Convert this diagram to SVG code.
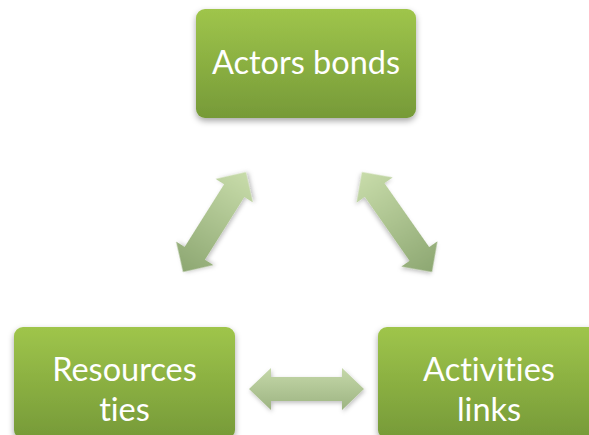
<svg xmlns="http://www.w3.org/2000/svg" width="589" height="435" viewBox="0 0 589 435">
<defs>
<linearGradient id="boxg" x1="0" y1="0" x2="0" y2="1">
<stop offset="0" stop-color="#9fc54b"/>
<stop offset="1" stop-color="#769a38"/>
</linearGradient>
<linearGradient id="ag1" x1="0" y1="0" x2="1" y2="0">
<stop offset="0" stop-color="#8da772"/>
<stop offset="1" stop-color="#c8dcaa"/>
</linearGradient>
<linearGradient id="ag2" x1="0" y1="0" x2="1" y2="0">
<stop offset="0" stop-color="#c8dcaa"/>
<stop offset="1" stop-color="#8da772"/>
</linearGradient>
<linearGradient id="ag3" x1="0" y1="0" x2="0" y2="1">
<stop offset="0" stop-color="#c5d8a9"/>
<stop offset="1" stop-color="#9db482"/>
</linearGradient>
<filter id="sh" x="-20%" y="-20%" width="140%" height="150%">
<feDropShadow dx="0" dy="3" stdDeviation="3" flood-color="#000" flood-opacity="0.35"/>
</filter>
<filter id="ash" x="-20%" y="-40%" width="140%" height="180%">
<feDropShadow dx="1" dy="2" stdDeviation="2" flood-color="#000" flood-opacity="0.25"/>
</filter>
</defs>
<style>
.box{fill:url(#boxg);filter:url(#sh)}
.lbl{fill:#fff;font-family:"Lato","Liberation Sans",sans-serif;font-size:32.5px;text-anchor:middle;font-variant-ligatures:none;font-feature-settings:"liga" 0}
</style>
<g id="connectors">
<g transform="translate(214.5,222) rotate(-57.8)" filter="url(#ash)">
<polygon fill="url(#ag1)" points="-59,0 -37,-22 -37,-12 37,-12 37,-22 59,0 37,22 37,12 -37,12 -37,22"/>
</g>
<g transform="translate(397,222) rotate(55)" filter="url(#ash)">
<polygon fill="url(#ag2)" points="-61,0 -39,-22 -39,-12 39,-12 39,-22 61,0 39,22 39,12 -39,12 -39,22"/>
</g>
<g transform="translate(306.5,389)" filter="url(#ash)">
<polygon fill="url(#ag3)" points="-57.5,0 -35.5,-21 -35.5,-12 35.5,-12 35.5,-21 57.5,0 35.5,21 35.5,12 -35.5,12 -35.5,21"/>
</g>
</g>
<g id="actors">
<rect class="box" x="196" y="9" width="220" height="109" rx="9"/>
<text class="lbl" x="306" y="74">Actors bonds</text>
</g>
<g id="resources">
<rect class="box" x="14" y="327" width="221" height="112" rx="9"/>
<text class="lbl" x="124.5" y="381">Resources</text>
<text class="lbl" x="124.5" y="421">ties</text>
</g>
<g id="activities">
<rect class="box" x="378" y="327" width="221" height="112" rx="9"/>
<text class="lbl" x="489" y="381">Activities</text>
<text class="lbl" x="489" y="421">links</text>
</g>
</svg>
